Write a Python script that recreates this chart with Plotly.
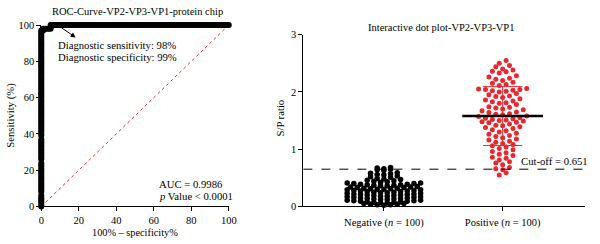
import numpy as np
import plotly.graph_objects as go

# ---------------- data ----------------
# ROC curve points (100% - specificity %, sensitivity %)
roc_fpr = [0, 0, 0, 0, 0, 0, 0, 0, 0, 0, 0, 0, 0, 0, 0, 0, 0, 0, 0, 0,
           0, 0, 0, 0, 0, 0, 0, 0, 0, 0, 0, 0, 0, 0, 0, 0, 0, 0, 0, 0,
           0, 0, 0, 0, 0, 0, 0, 0, 0, 0, 0, 0, 0, 0, 0, 0, 0, 0, 0, 0,
           0, 0, 0, 0, 0, 0, 0, 0, 0, 0, 0, 0, 0, 0, 0, 0, 0, 0, 0, 0,
           0, 0, 0, 0, 0, 0, 0, 0, 0, 0, 0, 0, 0, 0, 0,
           1, 1, 2, 3, 4, 5, 5, 5,
           6, 7, 8, 9, 10, 11, 12, 13, 14, 15, 16, 17, 18, 19, 20, 21, 22, 23, 24, 25,
           26, 27, 28, 29, 30, 31, 32, 33, 34, 35, 36, 37, 38, 39, 40, 41, 42, 43, 44, 45,
           46, 47, 48, 49, 50, 51, 52, 53, 54, 55, 56, 57, 58, 59, 60, 61, 62, 63, 64, 65,
           66, 67, 68, 69, 70, 71, 72, 73, 74, 75, 76, 77, 78, 79, 80, 81, 82, 83, 84, 85,
           86, 87, 88, 89, 90, 91, 92, 93, 94, 95, 96, 97, 98, 99, 100]
roc_sens = [0, 1, 2, 3, 4, 5, 6, 8, 9, 10, 11, 12, 13, 14, 15, 16, 17, 18, 19, 20,
            21, 22, 23, 24, 26, 27, 28, 29, 30, 31, 32, 33, 34, 35, 36, 37, 39, 40, 41, 42,
            43, 44, 45, 46, 47, 48, 49, 50, 51, 52, 53, 54, 55, 56, 57, 58, 59, 60, 61, 62,
            63, 64, 65, 66, 67, 68, 69, 70, 71, 72, 73, 74, 75, 76, 77, 78, 79, 80, 81, 82,
            83, 84, 85, 86, 87, 88, 89, 90, 91, 92, 93, 94, 95, 96, 97,
            97, 98, 98, 98, 98, 98, 99, 100,
            100, 100, 100, 100, 100, 100, 100, 100, 100, 100, 100, 100, 100, 100, 100, 100, 100, 100, 100, 100,
            100, 100, 100, 100, 100, 100, 100, 100, 100, 100, 100, 100, 100, 100, 100, 100, 100, 100, 100, 100,
            100, 100, 100, 100, 100, 100, 100, 100, 100, 100, 100, 100, 100, 100, 100, 100, 100, 100, 100, 100,
            100, 100, 100, 100, 100, 100, 100, 100, 100, 100, 100, 100, 100, 100, 100, 100, 100, 100, 100, 100,
            100, 100, 100, 100, 100, 100, 100, 100, 100, 100, 100, 100, 100, 100, 100]
roc_ticks = [0, 20, 40, 60, 80, 100]

# Dot plot S/P ratios
negative = [0.68, 0.67, 0.66, 0.65, 0.64, 0.63,
            0.59, 0.58, 0.57, 0.56, 0.55, 0.53, 0.52, 0.51,
            0.49, 0.48, 0.47, 0.46, 0.45, 0.44, 0.43, 0.42,
            0.41, 0.41, 0.40, 0.40, 0.39, 0.39, 0.38, 0.38, 0.37, 0.37,
            0.36, 0.36, 0.35, 0.34, 0.34, 0.33, 0.33, 0.32, 0.32,
            0.31, 0.31, 0.30, 0.30, 0.29, 0.29, 0.28, 0.28, 0.27, 0.27,
            0.26, 0.26, 0.25, 0.25, 0.24, 0.24, 0.23, 0.23, 0.22, 0.22,
            0.21, 0.21, 0.20, 0.20, 0.19, 0.19, 0.18, 0.18, 0.17, 0.17,
            0.16, 0.16, 0.15, 0.15, 0.14, 0.14, 0.13, 0.13, 0.12, 0.12,
            0.11, 0.11, 0.10, 0.10, 0.09, 0.09, 0.08, 0.08, 0.07, 0.07,
            0.06, 0.06, 0.05, 0.05, 0.04, 0.04, 0.03, 0.03, 0.02]
positive = [2.55,
            2.50, 2.46, 2.44,
            2.40, 2.38, 2.36, 2.35, 2.33,
            2.28, 2.26, 2.24, 2.22, 2.20,
            2.17, 2.15, 2.13, 2.11,
            2.06, 2.05, 2.04, 2.04, 2.03, 2.02, 2.01, 2.00,
            1.97, 1.95, 1.93, 1.92, 1.90, 1.88,
            1.86, 1.84, 1.83, 1.81, 1.80, 1.78,
            1.74, 1.73, 1.72, 1.70, 1.69, 1.67,
            1.65, 1.64, 1.62, 1.61, 1.60, 1.58, 1.57,
            1.55, 1.54, 1.53, 1.52, 1.51, 1.50, 1.49, 1.48, 1.47, 1.46,
            1.44, 1.42, 1.41, 1.39, 1.38, 1.36,
            1.34, 1.32, 1.30, 1.28, 1.26,
            1.24, 1.22, 1.20, 1.18, 1.16,
            1.14, 1.12, 1.10, 1.08, 1.06,
            1.04, 1.01, 0.99, 0.96,
            0.94, 0.91, 0.89, 0.86,
            0.84, 0.81, 0.78, 0.76,
            0.73, 0.68, 0.66,
            0.64, 0.59,
            0.55]
groups = ["Negative (<i>n</i> = 100)", "Positive (<i>n</i> = 100)"]
cutoff = 0.651
sp_ticks = [0, 1, 2, 3]

# ---------------- layout helpers ----------------
W, H = 600, 244
def px(x):
    return x / W
def py(y):
    return 1 - y / H

FONT = "Liberation Serif"
RED = "#e8282e"

# x-axis for dot plot: category 0 at 388px, 1 at 509px, axis spans 306..593px
PPU = 509 - 388
x2_range = [-(388 - 306) / PPU, 1 + (593 - 509) / PPU]


def swarm(vals, center, bin_w, dx):
    v = np.sort(np.asarray(vals, dtype=float))
    bins = np.floor(v / bin_w + 1e-9).astype(int)
    xs, ys = [], []
    for b in np.unique(bins):
        g = v[bins == b]
        k = len(g)
        offs = (np.arange(k) - (k - 1) / 2) * dx
        order = np.argsort(np.abs(offs), kind="stable")
        for j, i in enumerate(order):
            xs.append(center + offs[i])
            ys.append(g[j])
    return xs, ys


nx, ny = swarm(negative, 0, 0.06, 6.8 / PPU)
px_, py_ = swarm(positive, 1, 0.1, 7 / PPU)

fig = go.Figure()

# ROC diagonal reference
fig.add_trace(go.Scatter(x=[roc_ticks[0], roc_ticks[-1]], y=[roc_ticks[0], roc_ticks[-1]],
                         mode="lines", line=dict(color=RED, width=1, dash="dot"),
                         xaxis="x", yaxis="y", hoverinfo="skip"))
# ROC curve
fig.add_trace(go.Scatter(x=roc_fpr, y=roc_sens, mode="lines+markers",
                         line=dict(color="black", width=2),
                         marker=dict(color="black", size=6),
                         cliponaxis=False, xaxis="x", yaxis="y"))

# dot plot
fig.add_trace(go.Scatter(x=nx, y=ny, mode="markers",
                         marker=dict(color="black", size=5.5),
                         cliponaxis=False, xaxis="x2", yaxis="y2"))
fig.add_trace(go.Scatter(x=px_, y=py_, mode="markers",
                         marker=dict(color=RED, size=5),
                         cliponaxis=False, xaxis="x2", yaxis="y2"))

pos_mean = float(np.mean(positive))
pos_sd = float(np.std(positive, ddof=1))

shapes = [
    dict(type="line", xref="x2 domain", yref="y2", x0=0, x1=1, y0=cutoff, y1=cutoff,
         line=dict(color="black", width=1, dash="dash")),
    dict(type="line", xref="x2", yref="y2", x0=1, x1=1, y0=pos_mean - pos_sd, y1=pos_mean + pos_sd,
         line=dict(color=RED, width=1)),
    dict(type="line", xref="x2", yref="y2", x0=1 - 0.165, x1=1 + 0.165, y0=pos_mean + pos_sd,
         y1=pos_mean + pos_sd, line=dict(color=RED, width=1)),
    dict(type="line", xref="x2", yref="y2", x0=1 - 0.165, x1=1 + 0.165, y0=pos_mean - pos_sd,
         y1=pos_mean - pos_sd, line=dict(color=RED, width=1)),
    dict(type="line", xref="x2", yref="y2", x0=1 - 0.34, x1=1 + 0.34, y0=pos_mean, y1=pos_mean,
         line=dict(color="black", width=2.5)),
]

def txt(text, x, y, xanchor="center", size=10.7, angle=0):
    return dict(text=text, x=px(x), y=py(y), xref="paper", yref="paper",
                xanchor=xanchor, yanchor="middle", showarrow=False, textangle=angle,
                font=dict(family=FONT, size=size, color="black"))

annotations = [
    txt("ROC-Curve-VP2-VP3-VP1-protein chip", 137, 7, size=10.5),
    txt("Interactive dot plot-VP2-VP3-VP1", 446, 24, size=10.5),
    txt("Diagnostic sensitivity: 98%", 54, 42, xanchor="left"),
    txt("Diagnostic specificity: 99%", 54, 54, xanchor="left"),
    txt("AUC = 0.9986", 157, 187, xanchor="left"),
    txt("<i>p</i> Value < 0.0001", 157, 200, xanchor="left"),
    txt("100% – specificity%", 134, 238.5, size=10.3),
    txt("Sensitivity (%)", 8, 115, angle=-90),
    txt("S/P ratio", 282, 118, angle=-90),
    txt("Cut-off = 0.651", 598, 163, xanchor="right"),
    dict(x=px(74), y=py(34), xref="paper", yref="paper", ax=-16, ay=-11,
         showarrow=True, arrowhead=2, arrowsize=1, arrowwidth=1, arrowcolor="black", text=""),
]

axis_common = dict(showline=True, linecolor="black", linewidth=1, ticks="outside",
                   ticklen=4, tickcolor="black", tickwidth=1, showgrid=False, zeroline=False,
                   tickfont=dict(family=FONT, size=10.5, color="black"))

fig.update_layout(
    width=W, height=H, margin=dict(l=0, r=0, t=0, b=0),
    paper_bgcolor="white", plot_bgcolor="white", showlegend=False,
    xaxis=dict(domain=[px(39), px(230)], range=[0, 100], tickvals=roc_ticks, anchor="y",
               **axis_common),
    yaxis=dict(domain=[py(211), py(21)], range=[0, 100], tickvals=roc_ticks, anchor="x",
               **axis_common),
    xaxis2=dict(domain=[px(306), px(593)], range=x2_range, tickvals=[0, 1], ticktext=groups,
                anchor="y2", ticklabelstandoff=2, **axis_common),
    yaxis2=dict(domain=[py(211), py(31)], range=[0, 3], tickvals=sp_ticks, anchor="x2",
                **axis_common),
    shapes=shapes, annotations=annotations,
)

fig.write_html("out.html")
